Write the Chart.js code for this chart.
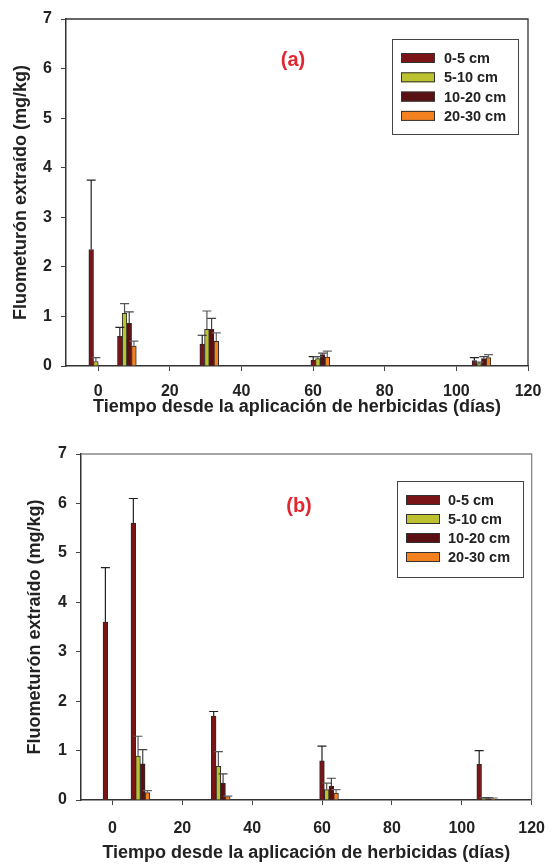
<!DOCTYPE html>
<html>
<head>
<meta charset="utf-8">
<script src="https://cdn.jsdelivr.net/npm/chart.js@4.4.0/dist/chart.umd.min.js"></script>
<style>
    body { margin: 0; background: #fff; }
    .panel { width: 559px; height: 432px; }
</style>
</head>
<body>
<div class="panel"><canvas id="chartA" width="559" height="432"></canvas></div>
<div class="panel"><canvas id="chartB" width="559" height="432"></canvas></div>
<script>
// Sampling days and depth classes
const days = [0, 8, 31, 62, 107];
const depthLabels = ['0-5 cm', '5-10 cm', '10-20 cm', '20-30 cm'];
const xTicks = [0, 20, 40, 60, 80, 100, 120];
const yTicks = [0, 1, 2, 3, 4, 5, 6, 7];

// Panel (a)
const a05 = [2.35, 0.60, 0.44, 0.12, 0.11];
const a510 = [0.09, 1.06, 0.74, 0.15, 0.05];
const a1020 = [null, 0.86, 0.74, 0.23, 0.15];
const a2030 = [null, 0.40, 0.50, 0.18, 0.17];
const aErr05 = [1.40, 0.18, 0.18, 0.07, 0.06];
const aErr510 = [0.08, 0.20, 0.37, 0.04, 0.03];
const aErr1020 = [0, 0.23, 0.22, 0.03, 0.04];
const aErr2030 = [0, 0.10, 0.17, 0.12, 0.06];

// Panel (b)
const b05 = [3.60, 5.60, 1.70, 0.79, 0.72];
const b510 = [null, 0.89, 0.68, 0.21, 0.03];
const b1020 = [null, 0.73, 0.34, 0.28, 0.03];
const b2030 = [null, 0.15, 0.07, 0.14, 0.02];
const bErr05 = [1.10, 0.50, 0.09, 0.30, 0.28];
const bErr510 = [0, 0.40, 0.30, 0.13, 0.02];
const bErr1020 = [0, 0.29, 0.19, 0.16, 0.02];
const bErr2030 = [0, 0.04, 0.01, 0.07, 0.02];

const seriesColors = ['#7a1416', '#bcc22f', '#5a0f12', '#f48120'];
const errColors = ['#222', '#555', '#444', '#666'];
const FONT = '"Liberation Sans", Arial, sans-serif';

const makeDatasets = (values, errors) => values.map((vals, s) => ({
    label: depthLabels[s],
    data: days.map((d, i) => ({ x: d, y: vals[i] })),
    errors: errors[s],
    errorColor: errColors[s],
    backgroundColor: seriesColors[s],
    borderColor: '#2b2b2b',
    borderWidth: 1,
    barThickness: 4.7,
}));

// error bars (upper only)
const errorBars = {
    id: 'errorBars',
    afterDatasetsDraw(chart) {
        const ctx = chart.ctx;
        const yScale = chart.scales.y;
        chart.data.datasets.forEach((ds, di) => {
            chart.getDatasetMeta(di).data.forEach((bar, i) => {
                const v = ds.data[i].y;
                const e = ds.errors[i];
                if (v == null || !e) return;
                const top = yScale.getPixelForValue(v + e);
                ctx.save();
                ctx.strokeStyle = ds.errorColor;
                ctx.lineWidth = 1.2;
                ctx.beginPath();
                ctx.moveTo(bar.x, bar.y);
                ctx.lineTo(bar.x, top);
                ctx.moveTo(bar.x - 4.5, top);
                ctx.lineTo(bar.x + 4.5, top);
                ctx.stroke();
                ctx.restore();
            });
        });
    }
};

// top + right frame lines, panel letter, legend box
const decorations = {
    id: 'decorations',
    afterDraw(chart, args, opts) {
        const ctx = chart.ctx;
        const area = chart.chartArea;
        ctx.save();
        ctx.strokeStyle = opts.frameColor;
        ctx.lineWidth = 1.3;
        ctx.beginPath();
        ctx.moveTo(area.left, area.top);
        ctx.lineTo(area.right, area.top);
        ctx.lineTo(area.right, area.bottom);
        ctx.stroke();

        // panel letter
        ctx.fillStyle = '#e3262f';
        ctx.font = 'bold 20px ' + FONT;
        ctx.textAlign = 'center';
        ctx.textBaseline = 'middle';
        ctx.fillText(opts.letter, opts.letterX, opts.letterY);

        // legend
        const lg = opts.legend;
        ctx.fillStyle = '#fff';
        ctx.fillRect(lg.x, lg.y, lg.w, lg.h);
        ctx.strokeStyle = '#444';
        ctx.lineWidth = 1;
        ctx.strokeRect(lg.x + 0.5, lg.y + 0.5, lg.w, lg.h);
        ctx.font = 'bold 14.5px ' + FONT;
        ctx.textAlign = 'left';
        chart.data.datasets.forEach((ds, i) => {
            const cy = lg.rowY + i * lg.rowGap;
            ctx.fillStyle = ds.backgroundColor;
            ctx.fillRect(lg.swatchX, cy - 5, 34, 10);
            ctx.strokeStyle = '#333';
            ctx.strokeRect(lg.swatchX + 0.5, cy - 4.5, 33, 9);
            ctx.fillStyle = '#222';
            ctx.fillText(ds.label, lg.textX, cy + 1);
        });
        ctx.restore();
    }
};

function makeChart(id, datasets, cfg) {
    return new Chart(document.getElementById(id).getContext('2d'), {
        type: 'bar',
        data: { datasets },
        options: {
            responsive: false,
            animation: false,
            layout: { padding: { top: cfg.top, right: cfg.right, left: 0, bottom: 0 } },
            plugins: {
                legend: { display: false },
                tooltip: { enabled: false },
                decorations: cfg.deco,
            },
            scales: {
                x: {
                    type: 'linear',
                    min: -9,
                    max: 120,
                    offset: false,
                    afterBuildTicks: s => { s.ticks = xTicks.map(v => ({ value: v })); },
                    afterFit: s => { s.height = cfg.xHeight; },
                    grid: { drawOnChartArea: false, offset: false, tickLength: 5, color: '#444' },
                    border: { color: '#333', width: 1.5 },
                    ticks: {
                        padding: cfg.xTickPad, autoSkip: false, maxRotation: 0, color: '#222',
                        font: { family: FONT, size: 16, weight: 'bold' }
                    },
                    title: {
                        display: true,
                        text: 'Tiempo desde la aplicación de herbicidas (días)',
                        color: '#222',
                        font: { family: FONT, size: 18, weight: 'bold' },
                        padding: { top: 0, bottom: cfg.xTitlePad }
                    }
                },
                y: {
                    min: 0,
                    max: 7,
                    afterBuildTicks: s => { s.ticks = yTicks.map(v => ({ value: v })); },
                    afterFit: s => { s.width = cfg.yWidth; },
                    grid: { drawOnChartArea: false, tickLength: 5, color: '#444' },
                    border: { color: '#333', width: 1.5 },
                    ticks: {
                        padding: 9, color: '#222',
                        font: { family: FONT, size: 16, weight: 'bold' }
                    },
                    title: {
                        display: true,
                        text: 'Fluometurón extraído (mg/kg)',
                        color: '#222',
                        font: { family: FONT, size: 18, weight: 'bold' },
                        padding: { top: cfg.yTitlePad, bottom: 0 }
                    }
                }
            }
        },
        plugins: [errorBars, decorations]
    });
}

makeChart('chartA',
    makeDatasets([a05, a510, a1020, a2030], [aErr05, aErr510, aErr1020, aErr2030]),
    {
        top: 19, right: 31, xHeight: 66, yWidth: 66, xTickPad: 11, xTitlePad: 14, yTitlePad: 10,
        deco: {
            frameColor: '#333', letter: '(a)', letterX: 293, letterY: 60,
            legend: { x: 392, y: 39, w: 126, h: 95, rowY: 58, rowGap: 19.3, swatchX: 401, textX: 444 }
        }
    });

makeChart('chartB',
    makeDatasets([b05, b510, b1020, b2030], [bErr05, bErr510, bErr1020, bErr2030]),
    {
        top: 22, right: 16, xHeight: 64, yWidth: 81, xTickPad: 14, xTitlePad: 0, yTitlePad: 24,
        deco: {
            frameColor: '#888', letter: '(b)', letterX: 299, letterY: 74,
            legend: { x: 397, y: 49, w: 126, h: 96, rowY: 68, rowGap: 19, swatchX: 406, textX: 448 }
        }
    });
</script>
</body>
</html>
